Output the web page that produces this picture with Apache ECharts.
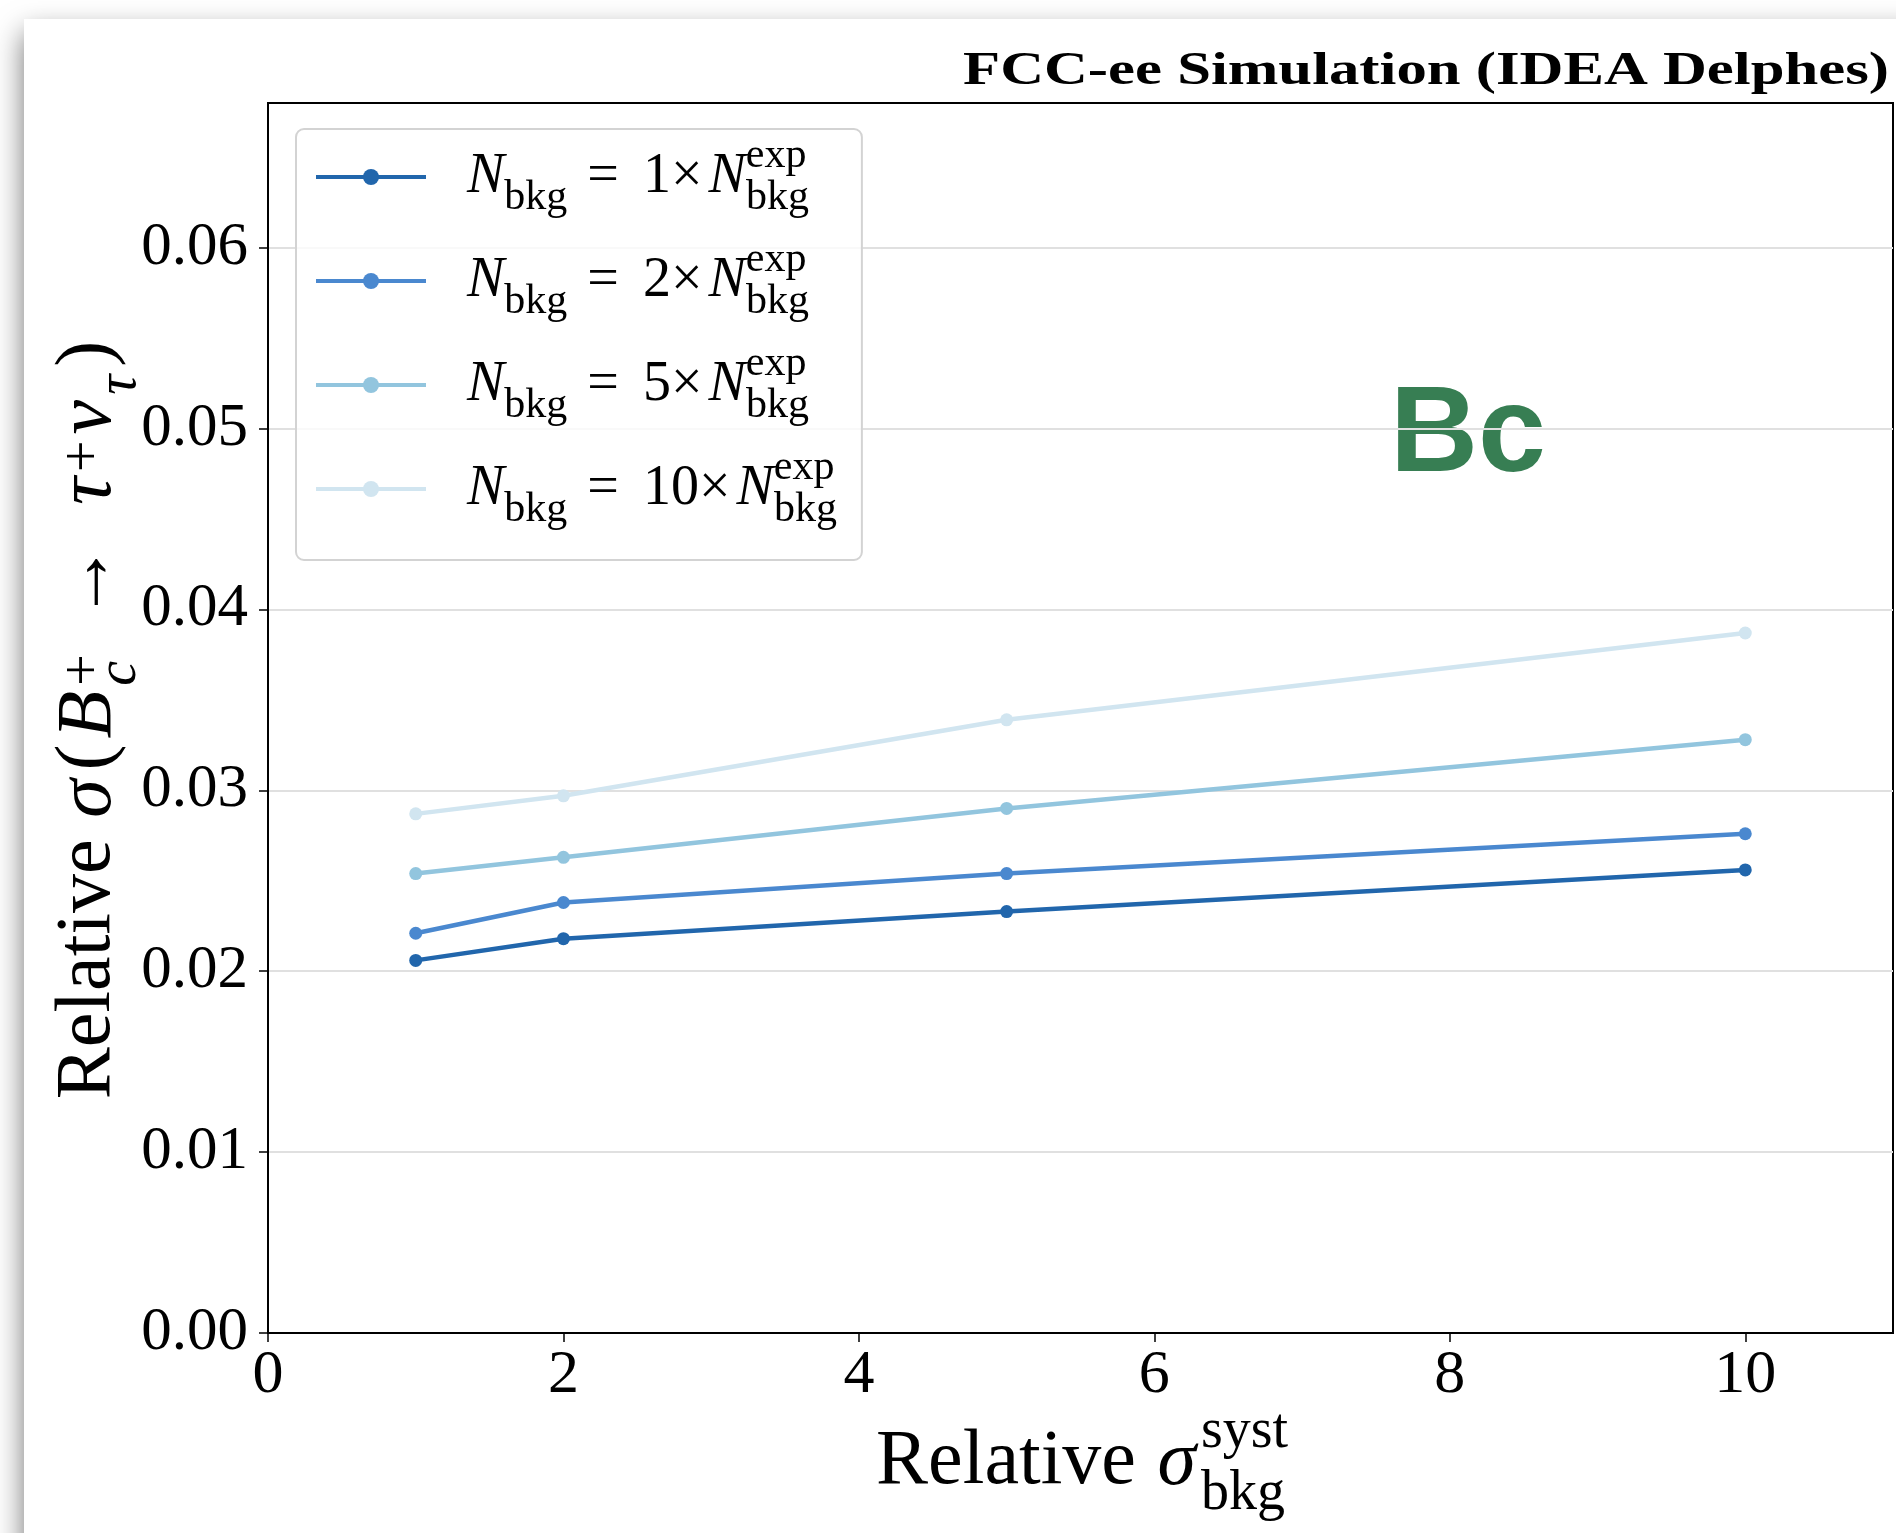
<!DOCTYPE html>
<html>
<head>
<meta charset="utf-8">
<script src="https://cdn.jsdelivr.net/npm/echarts@6/dist/echarts.min.js"></script>
<style>
  html, body { margin: 0; padding: 0; background: #ffffff; }
  #card { position: absolute; left: 24px; top: 19px; width: 1900px; height: 1540px; background: #fff;
          box-shadow: 0 14px 28px rgba(0,0,0,0.55); }
  #chart { position: absolute; left: 0; top: 0; width: 1896px; height: 1533px; }
</style>
</head>
<body>
<div id="card"></div>
<div id="chart"></div>
<script>
// ---- data ----
const xValues = [1, 2, 5, 10];
const multipliers = ['1', '2', '5', '10'];
const series1x  = [0.0206, 0.0218, 0.0233, 0.0256];
const series2x  = [0.0221, 0.0238, 0.0254, 0.0276];
const series5x  = [0.0254, 0.0263, 0.0290, 0.0328];
const series10x = [0.0287, 0.0297, 0.0339, 0.0387];
const xTicks = [0, 2, 4, 6, 8, 10];
const yTicks = [0, 0.01, 0.02, 0.03, 0.04, 0.05, 0.06];
const colors = ['#2166ac', '#4a88cf', '#92c5de', '#d1e5f0'];

const seriesValues = [series1x, series2x, series5x, series10x];
const serif = 'Liberation Serif';

const chart = echarts.init(document.getElementById('chart'), null, { renderer: 'canvas' });

function legendName(m) { return 'N' + m; }

const legendRich = {
  n0: { fontFamily: serif, fontStyle: 'italic', fontSize: 56, lineHeight: 84, color: '#000', padding: [0, 0, 0, 36] },
  n:  { fontFamily: serif, fontStyle: 'italic', fontSize: 56, lineHeight: 84, color: '#000', padding: [0, 0, 0, 6] },
  eq: { fontFamily: serif, fontSize: 56, lineHeight: 84, color: '#000', padding: [0, 20, 0, 20] },
  m:  { fontFamily: serif, fontSize: 56, lineHeight: 84, color: '#000', padding: [0, 0, 0, 4] },
  s:  { fontFamily: serif, fontSize: 42, lineHeight: 44, verticalAlign: 'bottom', color: '#000' },
  p:  { fontFamily: serif, fontSize: 42, lineHeight: 42, verticalAlign: 'top', width: 0.01, color: '#000' },
  b:  { fontFamily: serif, fontSize: 42, lineHeight: 30, verticalAlign: 'bottom', color: '#000' }
};

const axRich = {
  m:  { align: 'left', fontFamily: serif, fontSize: 78, lineHeight: 118, color: '#000' },
  pa: { align: 'left', fontFamily: serif, fontSize: 78, lineHeight: 118, color: '#000', padding: [0, 4, 0, 4] },
  i:  { align: 'left', fontFamily: serif, fontStyle: 'italic', fontSize: 78, lineHeight: 118, color: '#000', padding: [0, 5, 0, 2] },
  ar: { align: 'left', fontFamily: serif, fontSize: 78, lineHeight: 118, color: '#000', padding: [0, 36, 0, 36] },
  p0: { align: 'left', fontFamily: serif, fontSize: 56, lineHeight: 80, verticalAlign: 'top', width: 0.01, color: '#000' },
  pl: { align: 'left', fontFamily: serif, fontSize: 56, lineHeight: 60, verticalAlign: 'middle', color: '#000', padding: [0, 4, 8, 0] },
  pl0:{ align: 'left', fontFamily: serif, fontSize: 56, lineHeight: 60, verticalAlign: 'middle', width: 0.01, color: '#000', padding: [0, 0, 8, 0] },
  b:  { align: 'left', fontFamily: serif, fontSize: 56, lineHeight: 70, verticalAlign: 'bottom', color: '#000' },
  bi: { align: 'left', fontFamily: serif, fontStyle: 'italic', fontSize: 56, lineHeight: 70, verticalAlign: 'bottom', color: '#000', padding: [0, 4, 0, 0] }
};

const option = {
  animation: false,
  backgroundColor: 'transparent',
  grid: { left: 268, top: 103, right: 3, bottom: 200, containLabel: false, outerBoundsMode: 'none',
          show: true, borderColor: '#000', borderWidth: 2, backgroundColor: 'transparent' },
  xAxis: {
    type: 'value', min: 0, max: 11, interval: 2,
    axisLine: { show: true, lineStyle: { color: '#000', width: 2 } },
    axisTick: { show: true, length: 9, lineStyle: { color: '#000', width: 1.5 }, customValues: xTicks },
    axisLabel: { customValues: xTicks, fontFamily: serif, fontSize: 62, color: '#000', margin: 12 },
    splitLine: { show: false },
    name: '{m|Relative }{i|σ}{p0|syst}{b|bkg}',
    nameLocation: 'middle', nameGap: 71, nameMoveOverlap: false,
    nameTextStyle: { rich: axRich }
  },
  yAxis: {
    type: 'value', min: 0, max: 0.068, interval: 0.01,
    axisLine: { show: true, lineStyle: { color: '#000', width: 2 } },
    axisTick: { show: true, length: 9, lineStyle: { color: '#000', width: 1.5 }, customValues: yTicks },
    axisLabel: { customValues: yTicks, fontFamily: serif, fontSize: 61, color: '#000', margin: 20,
                 formatter: v => v.toFixed(2) },
    splitLine: { show: true, lineStyle: { color: '#e0e0e0', width: 2 } },
    name: '{m|Relative }{i|σ}{pa|(}{i|B}{pl0|+}{bi|c}{ar|→}{i|τ}{pl|+}{i|ν}{bi|τ}{pa|)}',
    nameLocation: 'middle', nameGap: 120, nameMoveOverlap: false,
    nameTextStyle: { rich: axRich }
  },
  legend: {
    orient: 'vertical', left: 296, top: 129,
    padding: [6, 25, 29, 18],
    itemGap: 20, itemWidth: 110, itemHeight: 20,
    backgroundColor: 'rgba(255,255,255,0.8)',
    borderColor: '#d3d3d3', borderWidth: 2, borderRadius: 8,
    lineStyle: { width: 4 },
    data: multipliers.map(legendName),
    formatter: name => {
      const m = name.slice(1);
      return '{n0|N}{s|bkg}{eq|=}{m|' + m + '×}{n|N}{p|exp}{b|bkg}';
    },
    textStyle: { rich: legendRich }
  },
  series: seriesValues.map((vals, k) => ({
    name: legendName(multipliers[k]),
    type: 'line',
    data: xValues.map((x, i) => [x, vals[i]]),
    symbol: 'circle', symbolSize: 13,
    color: colors[k],
    lineStyle: { color: colors[k], width: 4.5 },
    itemStyle: { color: colors[k] },
    z: 3
  })),
  graphic: [
    { type: 'text', x: 1889, y: 72, scaleX: 1.32,
      style: { text: 'FCC-ee Simulation (IDEA Delphes)', fontFamily: serif, fontWeight: 'bold', fontSize: 46,
               fill: '#000', align: 'right', verticalAlign: 'middle' } },
    { type: 'text', x: 1390, y: 437,
      style: { text: 'Bc', fontFamily: 'Liberation Sans', fontWeight: 'bold', fontSize: 122,
               fill: '#377e53', align: 'left', verticalAlign: 'middle' } }
  ]
};
chart.setOption(option);
</script>
</body>
</html>
